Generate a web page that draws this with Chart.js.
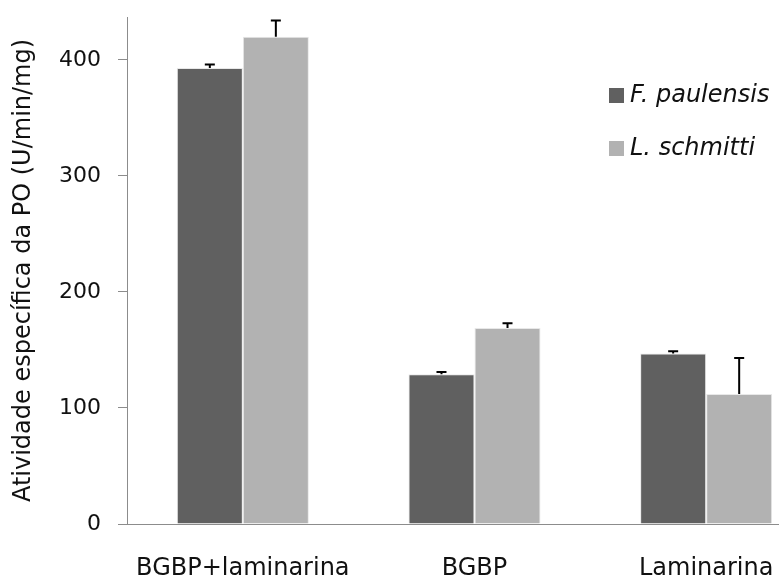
<!DOCTYPE html>
<html>
<head>
<meta charset="utf-8">
<script src="https://cdn.jsdelivr.net/npm/chart.js@4"></script>
<style>
  html, body { margin: 0; padding: 0; background: #fff; overflow: hidden; }
  #wrap { position: relative; width: 830px; height: 577px; }
  #legend { position: absolute; left: 609px; top: 79px; font-family: "DejaVu Sans", sans-serif;
            font-size: 24px; font-style: italic; color: #111; white-space: nowrap; }
  #legend div { height: 30px; line-height: 30px; margin-bottom: 23px; }
  #legend span { display: inline-block; width: 15px; height: 15px; margin-right: 6px; vertical-align: -1px; }
</style>
</head>
<body>
<div id="wrap">
  <canvas id="bar-chart" width="830" height="577"></canvas>
  <div id="legend"></div>
</div>
<script>
// DATA
var categories = ['BGBP+laminarina', 'BGBP', 'Laminarina'];
var paulensis = [393, 129, 147];
var paulensisErr = [3, 2, 2];
var schmitti = [420, 169, 112];
var schmittiErr = [14, 4, 31];
var yTicks = [0, 100, 200, 300, 400];

var colors = ['#606060', '#b2b2b2'];

// upper error bars
var errorBars = {
    id: 'errorBars',
    afterDatasetsDraw: function(chart) {
        var ctx = chart.ctx;
        var y = chart.scales.y;
        ctx.save();
        ctx.strokeStyle = '#000';
        ctx.lineWidth = 2;
        chart.data.datasets.forEach(function(ds, i) {
            var meta = chart.getDatasetMeta(i);
            meta.data.forEach(function(bar, j) {
                var top = y.getPixelForValue(ds.data[j] + ds.err[j]);
                ctx.beginPath();
                ctx.moveTo(bar.x, bar.y);
                ctx.lineTo(bar.x, top);
                ctx.moveTo(bar.x - 5, top);
                ctx.lineTo(bar.x + 5, top);
                ctx.stroke();
            });
        });
        ctx.restore();
    }
};

var chart = document.querySelector('#bar-chart');
var myChart = new Chart(chart, {
    type: 'bar',
    data: {
        labels: categories,
        datasets: [{
            label: 'F. paulensis',
            data: paulensis,
            err: paulensisErr,
            backgroundColor: colors[0],
            borderColor: '#e8e8e8',
            borderWidth: 1
        }, {
            label: 'L. schmitti',
            data: schmitti,
            err: schmittiErr,
            backgroundColor: colors[1],
            borderColor: '#e8e8e8',
            borderWidth: 1
        }]
    },
    options: {
        responsive: false,
        animation: false,
        layout: { padding: { top: 17, right: 8, left: 0, bottom: 0 } },
        datasets: { bar: { categoryPercentage: 0.57, barPercentage: 1.0 } },
        plugins: {
            legend: { display: false },
            tooltip: { enabled: false }
        },
        scales: {
            x: {
                grid: { display: false, drawTicks: false },
                border: { color: '#8c8c8c', width: 1 },
                ticks: {
                    color: '#111',
                    padding: 30,
                    font: { size: 24, family: 'DejaVu Sans' }
                },
                afterFit: function(scale) { scale.height = 53; }
            },
            y: {
                min: 0,
                max: 437,
                afterBuildTicks: function(scale) {
                    scale.ticks = yTicks.map(function(v) { return { value: v }; });
                },
                grid: { display: true, drawOnChartArea: false, tickLength: 9, color: '#8c8c8c' },
                border: { color: '#8c8c8c', width: 1 },
                ticks: {
                    color: '#111',
                    padding: 17,
                    font: { size: 22, family: 'DejaVu Sans' }
                },
                title: {
                    display: true,
                    text: 'Atividade específica da PO (U/min/mg)',
                    color: '#111',
                    padding: { top: 9, bottom: 4 },
                    font: { size: 24, family: 'DejaVu Sans' }
                },
                afterFit: function(scale) {
                    scale.width = 127;
                    scale.paddingTop = 0;
                    scale.paddingBottom = 0;
                }
            }
        }
    },
    plugins: [errorBars]
});

var legend = document.getElementById('legend');
myChart.data.datasets.forEach(function(ds) {
    var row = document.createElement('div');
    row.innerHTML = '<span style="background:' + ds.backgroundColor + '"></span>' + ds.label;
    legend.appendChild(row);
});
</script>
</body>
</html>
